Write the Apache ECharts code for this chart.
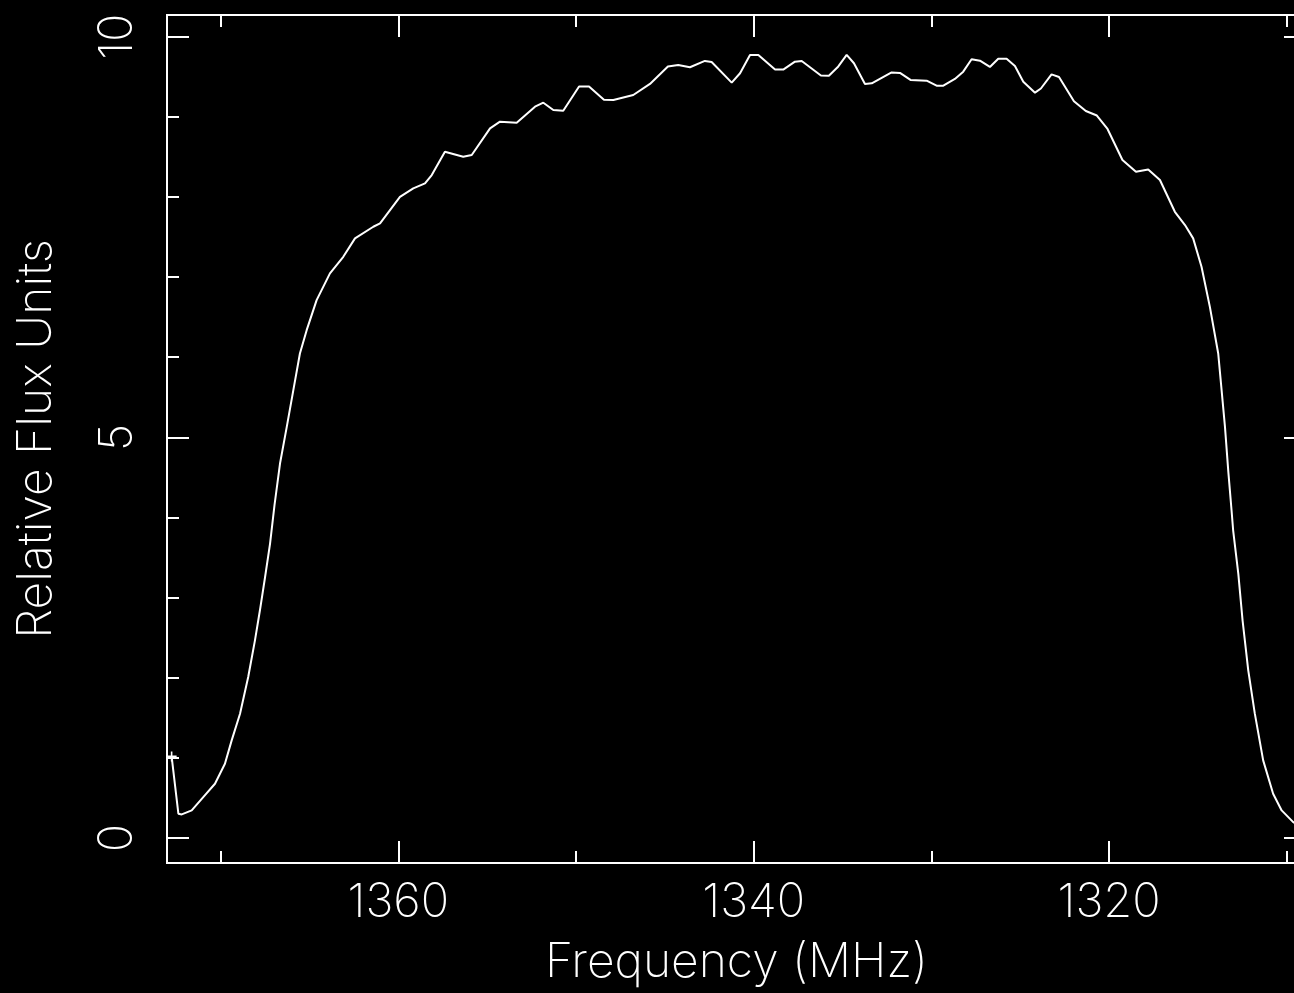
<!DOCTYPE html>
<html>
<head>
<meta charset="utf-8">
<title>Relative Flux vs Frequency</title>
<script src="https://cdn.jsdelivr.net/npm/echarts@6/dist/echarts.min.js"></script>
<style>
  html, body { margin: 0; padding: 0; background: #000; }
  #chart { width: 1294px; height: 993px; }
</style>
</head>
<body>
<div id="chart"></div>
<script>
// Bandpass trace: frequency (MHz) and relative flux for each sample
const freqMHz = [
  1372.76, 1372.38, 1372.19, 1371.63, 1370.98, 1370.32, 1369.76, 1369.38, 1368.91, 1368.45,
  1368.07, 1367.79, 1367.50, 1367.22, 1366.97, 1366.66, 1366.28, 1365.91, 1365.54, 1365.16,
  1364.60, 1363.85, 1363.10, 1362.44, 1361.41, 1361.03, 1360.47, 1359.91, 1359.16, 1358.50,
  1358.12, 1357.38, 1356.35, 1355.87, 1354.84, 1354.28, 1353.34, 1352.31, 1351.84, 1351.28,
  1350.72, 1349.83, 1349.27, 1348.43, 1347.90, 1346.78, 1345.84, 1344.83, 1344.25, 1343.59,
  1342.75, 1342.37, 1341.24, 1340.77, 1340.21, 1339.74, 1338.80, 1338.34, 1337.68, 1337.30,
  1336.22, 1335.77, 1335.24, 1334.77, 1334.36, 1333.74, 1333.36, 1332.24, 1331.77, 1331.18,
  1330.27, 1329.71, 1329.33, 1328.68, 1328.21, 1327.74, 1327.27, 1326.71, 1326.24, 1325.77,
  1325.30, 1324.83, 1324.17, 1323.84, 1323.24, 1322.82, 1321.98, 1321.31, 1320.69, 1320.09,
  1319.25, 1318.49, 1317.80, 1317.14, 1316.30, 1315.73, 1315.27, 1314.80, 1314.33, 1313.86,
  1313.67, 1313.48, 1313.29, 1313.11, 1313.02, 1312.73, 1312.49, 1312.17, 1311.80, 1311.33,
  1310.77, 1310.29, 1309.64, 1308.98
];
const flux = [
  1.02, 0.305, 0.296, 0.346, 0.512, 0.679, 0.929, 1.22, 1.553, 2.01,
  2.468, 2.843, 3.258, 3.675, 4.154, 4.674, 5.131, 5.589, 6.047, 6.338,
  6.713, 7.046, 7.253, 7.483, 7.628, 7.670, 7.836, 8.002, 8.107, 8.170,
  8.273, 8.564, 8.502, 8.523, 8.856, 8.939, 8.926, 9.126, 9.176, 9.085,
  9.076, 9.378, 9.378, 9.213, 9.210, 9.272, 9.410, 9.628, 9.647, 9.618,
  9.697, 9.684, 9.426, 9.543, 9.772, 9.772, 9.589, 9.589, 9.688, 9.697,
  9.516, 9.512, 9.628, 9.772, 9.668, 9.410, 9.418, 9.553, 9.547, 9.460,
  9.451, 9.388, 9.388, 9.472, 9.563, 9.718, 9.700, 9.622, 9.725, 9.725,
  9.634, 9.438, 9.301, 9.353, 9.529, 9.496, 9.195, 9.072, 9.016, 8.848,
  8.461, 8.315, 8.342, 8.211, 7.815, 7.649, 7.483, 7.129, 6.629, 6.047,
  5.589, 5.131, 4.566, 4.091, 3.841, 3.301, 2.718, 2.094, 1.553, 0.970,
  0.554, 0.346, 0.200, 0.12
];

// Axis ranges and tick positions
const freqRange = [1308.92, 1373.02];
const fluxRange = [-0.31, 10.27];
const freqMajorTicks = [1320, 1340, 1360];
const freqMinorTicks = [1310, 1330, 1350, 1370];
const fluxMajorTicks = [0, 5, 10];
const fluxMinorTicks = [1, 2, 3, 4, 6, 7, 8, 9];

const FG = '#ffffff';
const FONT = "Inter, 'DejaVu Sans', sans-serif";
const TICK_FONT_SIZE = 47;
const NAME_FONT_SIZE = 48;

const points = freqMHz.map((f, i) => {
  const item = { value: [f, flux[i]] };
  if (i === 0) {
    // small cross on the first sample
    item.symbol = 'path://M0,4.2H10V5.8H0Z M4.2,0H5.8V10H4.2Z';
    item.symbolSize = 10;
    item.itemStyle = { color: FG, borderWidth: 0 };
  }
  return item;
});

const plainNumber = v => String(Math.round(v));

function xAxisDef(position, ticks, len, withLabels) {
  return {
    type: 'value',
    position: position,
    min: freqRange[0],
    max: freqRange[1],
    inverse: true,
    axisLine: { show: false, onZero: false },
    splitLine: { show: false },
    axisTick: { show: true, inside: true, length: len, customValues: ticks,
                lineStyle: { color: FG, width: 2 } },
    axisLabel: withLabels ? {
      show: true, customValues: ticks, formatter: plainNumber, color: FG,
      fontFamily: FONT, fontSize: TICK_FONT_SIZE, fontWeight: 200, margin: 16
    } : { show: false },
    name: withLabels ? 'Frequency (MHz)' : '',
    nameLocation: 'middle',
    nameGap: 76,
    nameTextStyle: { color: FG, fontFamily: FONT, fontSize: NAME_FONT_SIZE, fontWeight: 200 }
  };
}

function yAxisDef(position, ticks, len, withLabels) {
  return {
    type: 'value',
    position: position,
    min: fluxRange[0],
    max: fluxRange[1],
    axisLine: { show: false, onZero: false },
    splitLine: { show: false },
    axisTick: { show: true, inside: true, length: len, customValues: ticks,
                lineStyle: { color: FG, width: 2 } },
    axisLabel: withLabels ? {
      show: true, customValues: ticks, formatter: plainNumber, color: FG,
      fontFamily: FONT, fontSize: TICK_FONT_SIZE, fontWeight: 200, rotate: 90, margin: 26
    } : { show: false },
    name: withLabels ? 'Relative Flux Units' : '',
    nameLocation: 'middle',
    nameRotate: 90,
    nameGap: 106,
    nameTextStyle: { color: FG, fontFamily: FONT, fontSize: NAME_FONT_SIZE, fontWeight: 200 }
  };
}

const chart = echarts.init(document.getElementById('chart'), null, { renderer: 'canvas' });
chart.setOption({
  backgroundColor: '#000000',
  animation: false,
  grid: {
    left: 167, top: 15, width: 1139, height: 848,
    outerBoundsMode: 'none',
    containLabel: false,
    show: true, borderColor: FG, borderWidth: 2, backgroundColor: 'transparent'
  },
  xAxis: [
    xAxisDef('bottom', freqMajorTicks, 22, true),
    xAxisDef('bottom', freqMinorTicks, 12, false),
    xAxisDef('top', freqMajorTicks, 22, false),
    xAxisDef('top', freqMinorTicks, 12, false)
  ],
  yAxis: [
    yAxisDef('left', fluxMajorTicks, 22, true),
    yAxisDef('left', fluxMinorTicks, 12, false),
    yAxisDef('right', fluxMajorTicks, 22, false),
    yAxisDef('right', fluxMinorTicks, 12, false)
  ],
  series: [{
    type: 'line',
    xAxisIndex: 0,
    yAxisIndex: 0,
    data: points,
    symbol: 'none',
    showSymbol: true,
    showAllSymbol: true,
    smooth: false,
    lineStyle: { color: FG, width: 2 },
    itemStyle: { color: FG },
    emphasis: { disabled: true },
    silent: true
  }]
});
</script>
</body>
</html>
